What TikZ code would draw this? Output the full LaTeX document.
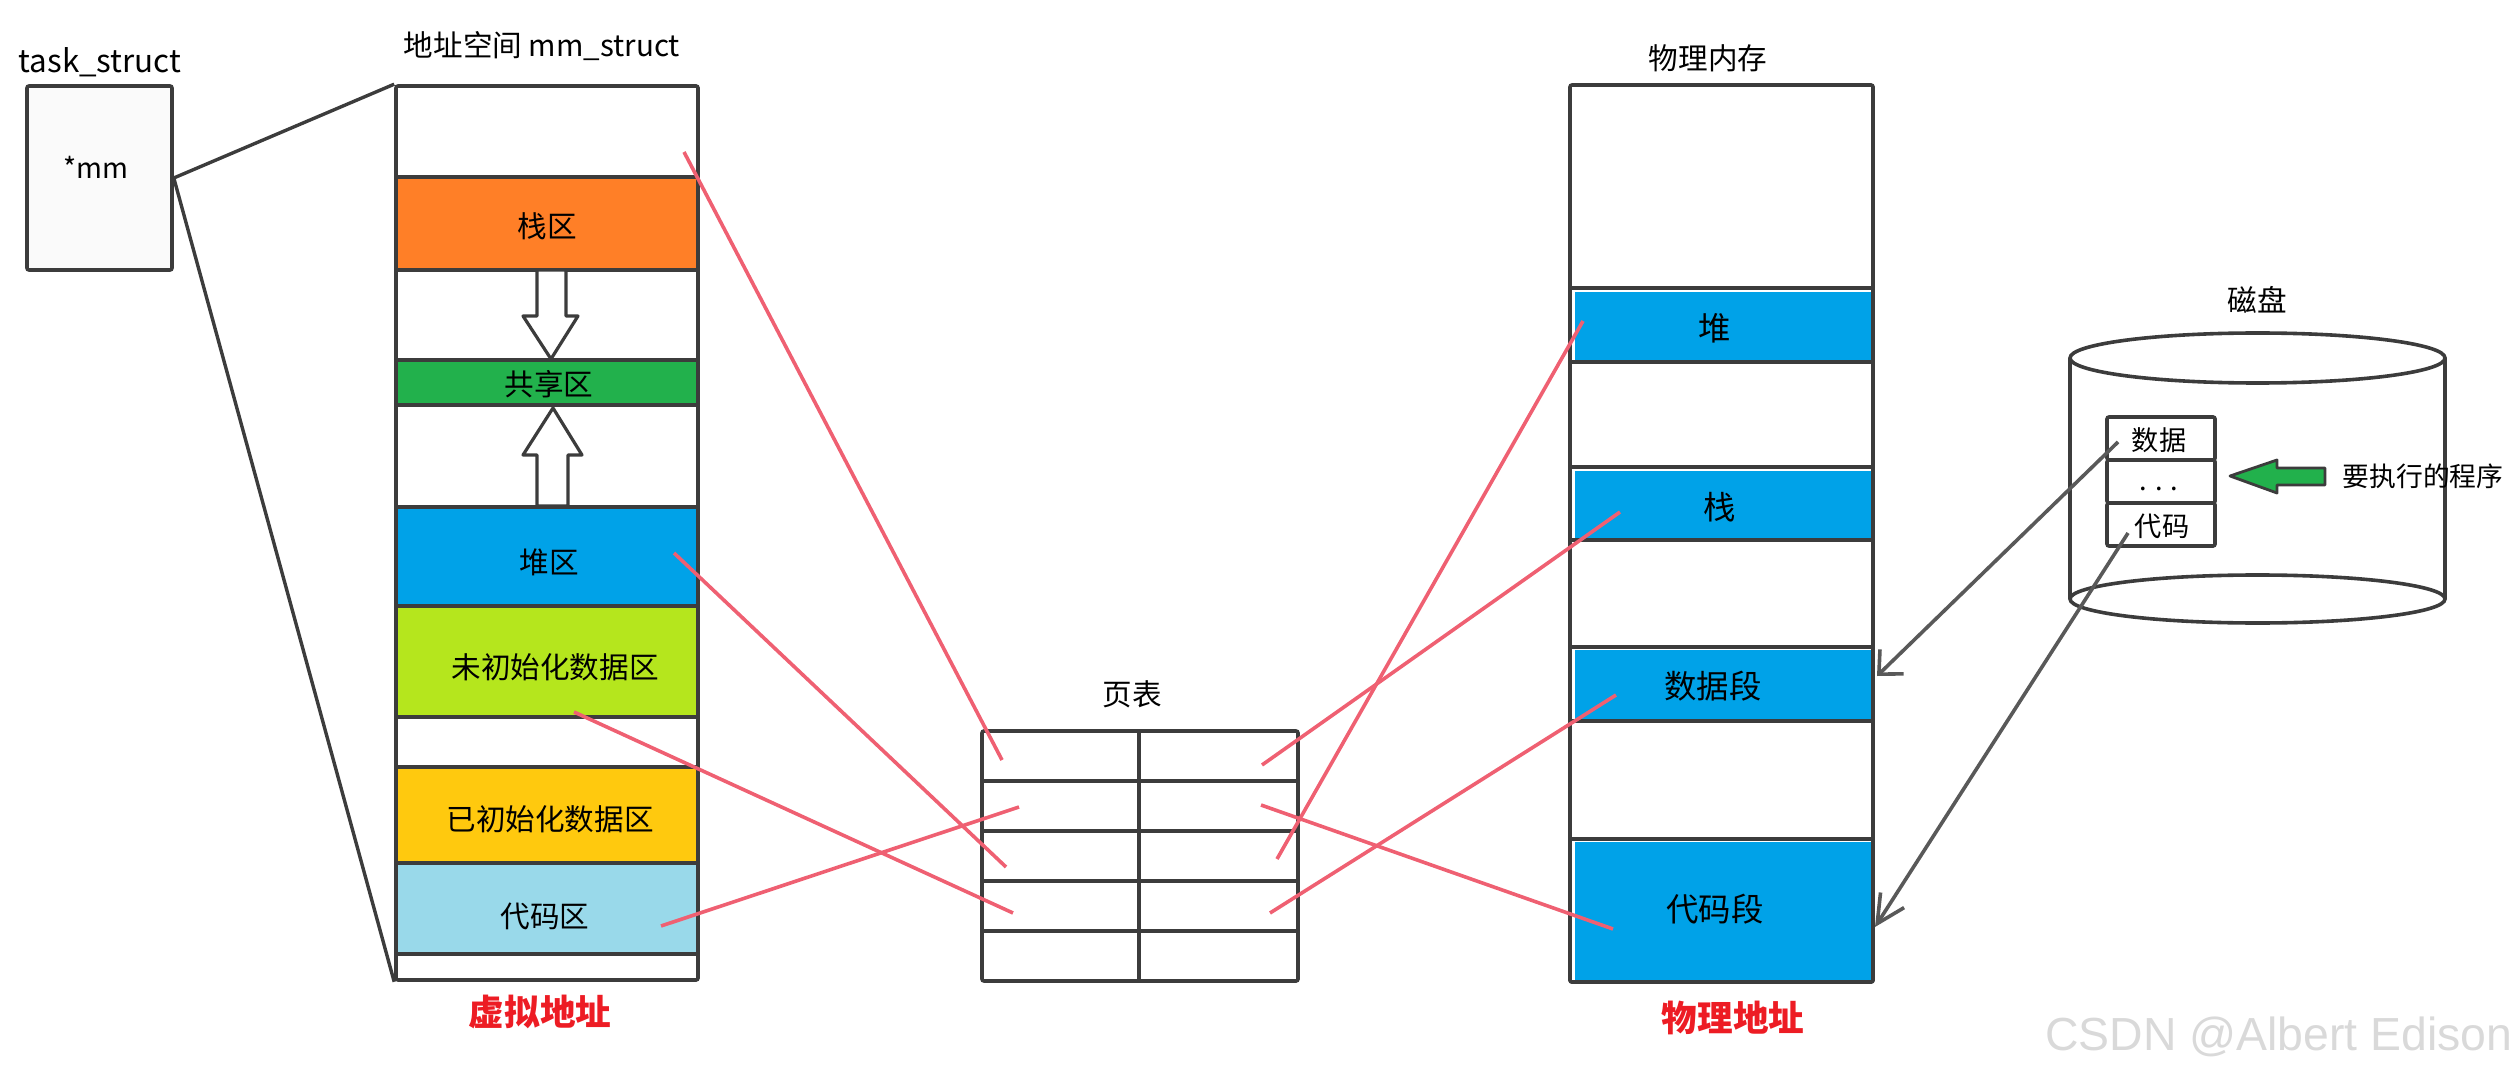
\documentclass[tikz,border=0pt]{standalone}
\usepackage{fontspec}
\setmainfont{Noto Sans CJK SC}
\newfontfamily\wmfont{Liberation Sans}
\usetikzlibrary{fit,arrows.meta}
\definecolor{inkline}{HTML}{3C3C3C}
\definecolor{redline}{HTML}{EF6072}
\definecolor{labelred}{HTML}{ED1C24}
\definecolor{cOrange}{HTML}{FF7F27}
\definecolor{cGreen}{HTML}{22B14C}
\definecolor{cBlue}{HTML}{00A2E8}
\definecolor{cLime}{HTML}{B5E61D}
\definecolor{cYellow}{HTML}{FFC90E}
\definecolor{cSky}{HTML}{99D9EA}
\tikzset{
  cell/.style={draw=inkline,line width=1.8pt,inner sep=0pt,rounded corners=1pt},
  lab/.style={inner sep=0pt,font=\fontsize{14.8}{16}\selectfont},
  labs/.style={inner sep=0pt,font=\fontsize{13.6}{15}\selectfont},
  labb/.style={inner sep=0pt,font=\fontsize{16.2}{18}\selectfont},
  redlab/.style={inner sep=0pt,text=labelred,font=\fontsize{17.8}{19}\selectfont\bfseries},
  mapline/.style={draw=redline,line width=1.8pt},
  blackline/.style={draw=inkline,line width=1.7pt},
  loadline/.style={draw=inkline!85,line width=1.8pt},
  blockarrow/.style={draw=inkline,line width=1.6pt,fill=white,line join=round},
}
\begin{document}
\begin{tikzpicture}[x=0.5pt,y=-0.5pt]
\useasboundingbox (0,0) rectangle (2519,1074);

% task_struct
\node[cell,fill=black!2,fit={(27,86)(172,270)}] (task) {};
\node[lab,font=\fontsize{15.7}{17}\selectfont] (tasklabel) at (100,62) {task\_struct};
\node[lab,font=\fontsize{14}{16}\selectfont] (mmlabel) at (96,167) {*mm};

% virtual address space: colour fills
\fill[cOrange] (398,179) rectangle (697,269);
\fill[cGreen]  (398,362) rectangle (697,403);
\fill[cBlue]   (398,508) rectangle (696,605);
\fill[cLime]   (398,608) rectangle (696,716);
\fill[cYellow] (398,768) rectangle (696,862);
\fill[cSky]    (398,865) rectangle (696,952);
% virtual address space: outlines
\node[cell,fit={(396,86)(698,980)}] (vm) {};
\node[cell,fit={(396,177)(698,270)}] (vstack) {};
\node[cell,fit={(396,360)(698,405)}] (vshare) {};
\node[cell,fit={(396,507)(698,606)}] (vheap) {};
\node[cell,fit={(396,606)(698,717)}] (vbss) {};
\node[cell,fit={(396,767)(698,863)}] (vdata) {};
\node[cell,fit={(396,863)(698,954)}] (vcode) {};
\node[lab] (vmtitle) at (542,46) {地址空间 mm\_struct};
\node[lab] at (547,226) {栈区};
\node[lab] at (549,384) {共享区};
\node[lab] at (549,562) {堆区};
\node[lab] at (555,667) {未初始化数据区};
\node[lab] at (550,819) {已初始化数据区};
\node[lab] at (545,916) {代码区};
\node[redlab] (vaddr) at (540,1012) {虚拟地址};

% block arrows between stack and heap
\draw[blockarrow] (537,270) -- (537,316) -- (523,316) -- (551,359) -- (578,316) -- (566,316) -- (566,270) -- cycle;
\draw[blockarrow] (537,506) -- (537,455) -- (523,455) -- (553,408) -- (582,455) -- (568,455) -- (568,506) -- cycle;

% links from task_struct
\draw[blackline] (task.east) -- (vm.north west);
\draw[blackline] (task.east) -- (vm.south west);

% page table
\node[cell,fit={(982,731)(1298,981)}] (pt) {};
\node[lab] (pttitle) at (1132,694) {页表};
\coordinate (ptmidt) at (1139,731);
\coordinate (ptmidb) at (1139,981);
\draw[cell,line width=2pt] (ptmidt) -- (ptmidb);
\foreach \yy in {781,831,881,931}
  \draw[cell,line width=2pt] (982,\yy) -- (1298,\yy);

% physical memory
\fill[cBlue] (1575,292) rectangle (1871,361);
\fill[cBlue] (1575,471) rectangle (1871,539);
\fill[cBlue] (1575,650) rectangle (1871,720);
\fill[cBlue] (1575,842) rectangle (1871,980);
\node[cell,fit={(1570,85)(1873,982)}] (pm) {};
\node[cell,fit={(1570,288)(1873,362)}] (pheap) {};
\node[cell,fit={(1570,467)(1873,540)}] (pstack) {};
\node[cell,fit={(1570,647)(1873,721)}] (pdata) {};
\node[cell,fit={(1570,839)(1873,982)}] (pcode) {};
\node[lab] (pmtitle) at (1708,58) {物理内存};
\node[labb] at (1715,328) {堆};
\node[labb] at (1720,507) {栈};
\node[labb] at (1713,686) {数据段};
\node[labb] at (1715,909) {代码段};
\node[redlab] (paddr) at (1733,1018) {物理地址};

% disk
\node[lab] (disktitle) at (2257,300) {磁盘};
\draw[cell,rounded corners=0pt] (2070,358) -- (2070,599);
\draw[cell,rounded corners=0pt] (2445,358) -- (2445,599);
\draw[cell,rounded corners=0pt] (2257.5,358) ellipse [x radius=187.5,y radius=25];
\draw[cell,rounded corners=0pt] (2257.5,599) ellipse [x radius=187.5,y radius=24];
\node[cell,fit={(2107,417)(2215,460)}] (ddata) {};
\node[cell,fit={(2107,460)(2215,503)}] (ddots) {};
\node[cell,fit={(2107,503)(2215,546)}] (dcode) {};
\node[labs] at (2159,440) {数据};
\node[labs,anchor=base] at (2159,490) {. . .};
\node[labs] at (2162,526) {代码};
\draw[draw=inkline,line width=1.4pt,fill=cGreen,line join=round] (2230,476) -- (2277,460) -- (2277,468) -- (2325,468) -- (2325,485) -- (2277,485) -- (2277,493) -- cycle;
\node[labs,font=\fontsize{13.4}{15}\selectfont] (runlabel) at (2423,476) {要执行的程序};

% red mapping lines
\coordinate (r1a) at (684,152);   \coordinate (r1b) at (1002,760);
\coordinate (r2a) at (674,553);   \coordinate (r2b) at (1006,867);
\coordinate (r3a) at (574,712);   \coordinate (r3b) at (1013,913);
\coordinate (r4a) at (661,926);   \coordinate (r4b) at (1019,807);
\coordinate (r5a) at (1583,321);  \coordinate (r5b) at (1277,859);
\coordinate (r6a) at (1620,512);  \coordinate (r6b) at (1262,765);
\coordinate (r7a) at (1616,695);  \coordinate (r7b) at (1270,913);
\coordinate (r8a) at (1613,929);  \coordinate (r8b) at (1261,805);
\foreach \n in {1,...,8}
  \draw[mapline] (r\n a) -- (r\n b);

% load arrows from disk
\coordinate (l1a) at (2118,442);  \coordinate (l1b) at (1877,676);
\coordinate (l2a) at (2128,533);  \coordinate (l2b) at (1875,927);
\draw[loadline,-{Straight Barb[length=9pt,width=17pt,line width=1.8pt]}] (l1a) -- (l1b);
\draw[loadline,-{Straight Barb[length=14pt,width=14pt,line width=1.8pt]}] (l2a) -- (l2b);

% watermark
\node[inner sep=0pt,anchor=base east,text=black!15,font=\wmfont\fontsize{23.2}{26}\selectfont] (wm) at (2513,1050) {CSDN @Albert Edison};
\end{tikzpicture}
\end{document}
